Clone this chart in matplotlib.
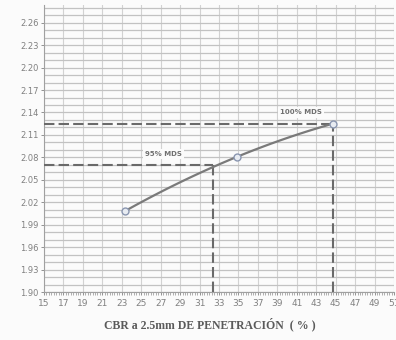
import numpy as np
import matplotlib
matplotlib.use("Agg")
import matplotlib.pyplot as plt

# data
cbr = [23.3, 34.9, 44.7]
density = [2.008, 2.081, 2.125]
mds100_x, mds100_y = 44.7, 2.124
mds95_x, mds95_y = 32.4, 2.070
xticks = list(range(15, 52, 2))
yticks = [1.90, 1.93, 1.96, 1.99, 2.02, 2.05, 2.08, 2.11, 2.14, 2.17, 2.20, 2.23, 2.26]

fig = plt.figure(figsize=(3.96, 3.40), dpi=100)
fig.patch.set_facecolor("#fbfbfb")
ax = fig.add_axes([0.111, 0.141, 0.884, 0.845])
ax.set_facecolor("#fbfbfb")
ax.set_xlim(15, 51)
ax.set_ylim(1.90, 2.284)

# grid
for x in xticks:
    ax.axvline(x, color="#d2d2d2", lw=0.8, zorder=1)
for y in np.arange(1.90, 2.285, 0.01):
    ax.axhline(y, color="#c2c2c2", lw=0.9, zorder=1)

# curve through the points
coef = np.polyfit(cbr, density, 2)
xs = np.linspace(cbr[0], cbr[-1], 100)
ax.plot(xs, np.polyval(coef, xs), color="#7a7a7a", lw=1.6, zorder=4)
ax.plot(cbr, density, "o", ms=5, mfc="#e8ecf2", mec="#8a96b0", mew=1.0, zorder=5)

# reference dashed lines
dash = dict(color="#6a6a6a", lw=1.5, ls=(0, (5, 2)), zorder=3)
ax.plot([15, mds100_x], [mds100_y, mds100_y], **dash)
ax.plot([mds100_x, mds100_x], [1.90, mds100_y], **dash)
ax.plot([15, mds95_x], [mds95_y, mds95_y], **dash)
ax.plot([mds95_x, mds95_x], [1.90, mds95_y], **dash)

ax.text(41.4, 2.140, "100% MDS", fontsize=5, color="#707070", fontweight="bold",
        ha="center", va="center", zorder=6,
        bbox=dict(facecolor="#fbfbfb", edgecolor="none", pad=1.5))
ax.text(27.3, 2.085, "95% MDS", fontsize=5, color="#707070", fontweight="bold",
        ha="center", va="center", zorder=6,
        bbox=dict(facecolor="#fbfbfb", edgecolor="none", pad=1.5))

ax.set_xticks(xticks)
ax.set_xticklabels([str(v) for v in xticks])
ax.set_xticks(np.arange(15, 51.01, 0.25), minor=True)
ax.set_yticks(yticks)
ax.set_yticklabels([f"{v:.2f}" for v in yticks])
ax.tick_params(axis="both", labelsize=6, colors="#808080", length=2, width=0.6, pad=2)
ax.tick_params(axis="x", which="minor", length=2, width=0.5, colors="#909090")
ax.tick_params(axis="x", labelsize=6.5, pad=3)

for s in ["top", "right"]:
    ax.spines[s].set_visible(False)
ax.spines["left"].set_color("#a0a0a0")
ax.spines["bottom"].set_color("#a0a0a0")

fig.text(0.53, 0.045, "CBR a 2.5mm DE PENETRACIÓN  ( % )", family="Liberation Serif",
         fontweight="bold", fontsize=8.5, color="#5a5a5a", ha="center", va="center")

fig.savefig("out.png", dpi=100, facecolor=fig.get_facecolor())
